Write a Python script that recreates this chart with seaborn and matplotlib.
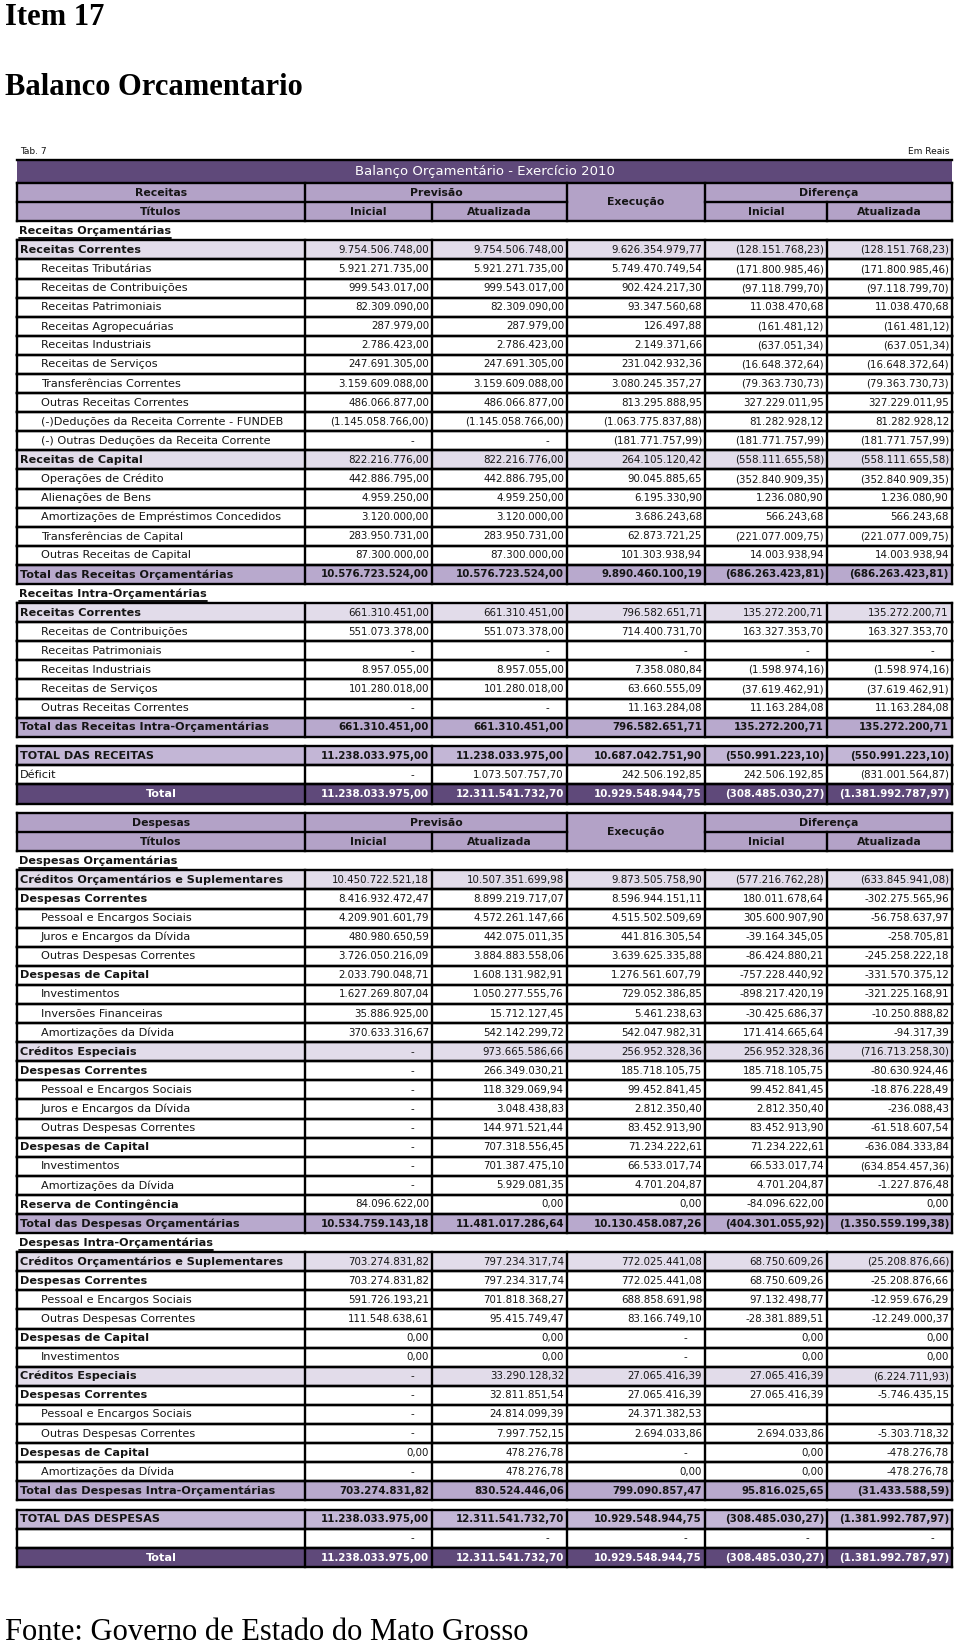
'''
Balanco Orcamentario - Exercicio 2010, drawn as a table.
'''
import matplotlib
matplotlib.use('Agg')
import matplotlib.pyplot as plt
import seaborn as sns
from matplotlib.patches import Rectangle

# Receitas.
rec_labels = [
  'Receitas Orçamentárias', 'Receitas Correntes', 'Receitas Tributárias',
  'Receitas de Contribuições', 'Receitas Patrimoniais', 'Receitas Agropecuárias',
  'Receitas Industriais', 'Receitas de Serviços', 'Transferências Correntes',
  'Outras Receitas Correntes', '(-)Deduções da Receita Corrente - FUNDEB',
  '(-) Outras Deduções da Receita Corrente', 'Receitas de Capital',
  'Operações de Crédito', 'Alienações de Bens',
  'Amortizações de Empréstimos Concedidos', 'Transferências de Capital',
  'Outras Receitas de Capital', 'Total das Receitas Orçamentárias',
  'Receitas Intra-Orçamentárias', 'Receitas Correntes',
  'Receitas de Contribuições', 'Receitas Patrimoniais', 'Receitas Industriais',
  'Receitas de Serviços', 'Outras Receitas Correntes',
  'Total das Receitas Intra-Orçamentárias', 'TOTAL DAS RECEITAS', 'Déficit',
  'Total']
rec_kinds = ['sec', 'cat'] + ['item'] * 10 + ['cat'] + ['item'] * 5 + \
  ['tot', 'sec', 'cat'] + ['item'] * 5 + ['tot', 'big', 'plain', 'final']
rec_inicial = [
  '', '9.754.506.748,00', '5.921.271.735,00', '999.543.017,00', '82.309.090,00',
  '287.979,00', '2.786.423,00', '247.691.305,00', '3.159.609.088,00',
  '486.066.877,00', '(1.145.058.766,00)', '-', '822.216.776,00',
  '442.886.795,00', '4.959.250,00', '3.120.000,00', '283.950.731,00',
  '87.300.000,00', '10.576.723.524,00', '', '661.310.451,00', '551.073.378,00',
  '-', '8.957.055,00', '101.280.018,00', '-', '661.310.451,00',
  '11.238.033.975,00', '-', '11.238.033.975,00']
rec_atualizada = [
  '', '9.754.506.748,00', '5.921.271.735,00', '999.543.017,00', '82.309.090,00',
  '287.979,00', '2.786.423,00', '247.691.305,00', '3.159.609.088,00',
  '486.066.877,00', '(1.145.058.766,00)', '-', '822.216.776,00',
  '442.886.795,00', '4.959.250,00', '3.120.000,00', '283.950.731,00',
  '87.300.000,00', '10.576.723.524,00', '', '661.310.451,00', '551.073.378,00',
  '-', '8.957.055,00', '101.280.018,00', '-', '661.310.451,00',
  '11.238.033.975,00', '1.073.507.757,70', '12.311.541.732,70']
rec_execucao = [
  '', '9.626.354.979,77', '5.749.470.749,54', '902.424.217,30', '93.347.560,68',
  '126.497,88', '2.149.371,66', '231.042.932,36', '3.080.245.357,27',
  '813.295.888,95', '(1.063.775.837,88)', '(181.771.757,99)', '264.105.120,42',
  '90.045.885,65', '6.195.330,90', '3.686.243,68', '62.873.721,25',
  '101.303.938,94', '9.890.460.100,19', '', '796.582.651,71', '714.400.731,70',
  '-', '7.358.080,84', '63.660.555,09', '11.163.284,08', '796.582.651,71',
  '10.687.042.751,90', '242.506.192,85', '10.929.548.944,75']
rec_dif_inicial = [
  '', '(128.151.768,23)', '(171.800.985,46)', '(97.118.799,70)', '11.038.470,68',
  '(161.481,12)', '(637.051,34)', '(16.648.372,64)', '(79.363.730,73)',
  '327.229.011,95', '81.282.928,12', '(181.771.757,99)', '(558.111.655,58)',
  '(352.840.909,35)', '1.236.080,90', '566.243,68', '(221.077.009,75)',
  '14.003.938,94', '(686.263.423,81)', '', '135.272.200,71', '163.327.353,70',
  '-', '(1.598.974,16)', '(37.619.462,91)', '11.163.284,08', '135.272.200,71',
  '(550.991.223,10)', '242.506.192,85', '(308.485.030,27)']
rec_dif_atualizada = [
  '', '(128.151.768,23)', '(171.800.985,46)', '(97.118.799,70)', '11.038.470,68',
  '(161.481,12)', '(637.051,34)', '(16.648.372,64)', '(79.363.730,73)',
  '327.229.011,95', '81.282.928,12', '(181.771.757,99)', '(558.111.655,58)',
  '(352.840.909,35)', '1.236.080,90', '566.243,68', '(221.077.009,75)',
  '14.003.938,94', '(686.263.423,81)', '', '135.272.200,71', '163.327.353,70',
  '-', '(1.598.974,16)', '(37.619.462,91)', '11.163.284,08', '135.272.200,71',
  '(550.991.223,10)', '(831.001.564,87)', '(1.381.992.787,97)']

# Despesas.
desp_labels = [
  'Despesas Orçamentárias', 'Créditos Orçamentários e Suplementares',
  'Despesas Correntes', 'Pessoal e Encargos Sociais', 'Juros e Encargos da Dívida',
  'Outras Despesas Correntes', 'Despesas de Capital', 'Investimentos',
  'Inversões Financeiras', 'Amortizações da Dívida', 'Créditos Especiais',
  'Despesas Correntes', 'Pessoal e Encargos Sociais', 'Juros e Encargos da Dívida',
  'Outras Despesas Correntes', 'Despesas de Capital', 'Investimentos',
  'Amortizações da Dívida', 'Reserva de Contingência',
  'Total das Despesas Orçamentárias', 'Despesas Intra-Orçamentárias',
  'Créditos Orçamentários e Suplementares', 'Despesas Correntes',
  'Pessoal e Encargos Sociais', 'Outras Despesas Correntes', 'Despesas de Capital',
  'Investimentos', 'Créditos Especiais', 'Despesas Correntes',
  'Pessoal e Encargos Sociais', 'Outras Despesas Correntes', 'Despesas de Capital',
  'Amortizações da Dívida', 'Total das Despesas Intra-Orçamentárias',
  'TOTAL DAS DESPESAS', '', 'Total']
desp_kinds = ['sec', 'cat', 'sub', 'item', 'item', 'item', 'sub', 'item', 'item',
  'item', 'cat', 'sub', 'item', 'item', 'item', 'sub', 'item', 'item', 'sub',
  'tot', 'sec', 'cat', 'sub', 'item', 'item', 'sub', 'item', 'cat', 'sub', 'item',
  'item', 'sub', 'item', 'tot', 'big', 'plain', 'final']
desp_inicial = [
  '', '10.450.722.521,18', '8.416.932.472,47', '4.209.901.601,79',
  '480.980.650,59', '3.726.050.216,09', '2.033.790.048,71', '1.627.269.807,04',
  '35.886.925,00', '370.633.316,67', '-', '-', '-', '-', '-', '-', '-', '-',
  '84.096.622,00', '10.534.759.143,18', '', '703.274.831,82', '703.274.831,82',
  '591.726.193,21', '111.548.638,61', '0,00', '0,00', '-', '-', '-', '-', '0,00',
  '-', '703.274.831,82', '11.238.033.975,00', '-', '11.238.033.975,00']
desp_atualizada = [
  '', '10.507.351.699,98', '8.899.219.717,07', '4.572.261.147,66',
  '442.075.011,35', '3.884.883.558,06', '1.608.131.982,91', '1.050.277.555,76',
  '15.712.127,45', '542.142.299,72', '973.665.586,66', '266.349.030,21',
  '118.329.069,94', '3.048.438,83', '144.971.521,44', '707.318.556,45',
  '701.387.475,10', '5.929.081,35', '0,00', '11.481.017.286,64', '',
  '797.234.317,74', '797.234.317,74', '701.818.368,27', '95.415.749,47', '0,00',
  '0,00', '33.290.128,32', '32.811.851,54', '24.814.099,39', '7.997.752,15',
  '478.276,78', '478.276,78', '830.524.446,06', '12.311.541.732,70', '-',
  '12.311.541.732,70']
desp_execucao = [
  '', '9.873.505.758,90', '8.596.944.151,11', '4.515.502.509,69',
  '441.816.305,54', '3.639.625.335,88', '1.276.561.607,79', '729.052.386,85',
  '5.461.238,63', '542.047.982,31', '256.952.328,36', '185.718.105,75',
  '99.452.841,45', '2.812.350,40', '83.452.913,90', '71.234.222,61',
  '66.533.017,74', '4.701.204,87', '0,00', '10.130.458.087,26', '',
  '772.025.441,08', '772.025.441,08', '688.858.691,98', '83.166.749,10', '-', '-',
  '27.065.416,39', '27.065.416,39', '24.371.382,53', '2.694.033,86', '-', '0,00',
  '799.090.857,47', '10.929.548.944,75', '-', '10.929.548.944,75']
desp_dif_inicial = [
  '', '(577.216.762,28)', '180.011.678,64', '305.600.907,90', '-39.164.345,05',
  '-86.424.880,21', '-757.228.440,92', '-898.217.420,19', '-30.425.686,37',
  '171.414.665,64', '256.952.328,36', '185.718.105,75', '99.452.841,45',
  '2.812.350,40', '83.452.913,90', '71.234.222,61', '66.533.017,74',
  '4.701.204,87', '-84.096.622,00', '(404.301.055,92)', '', '68.750.609,26',
  '68.750.609,26', '97.132.498,77', '-28.381.889,51', '0,00', '0,00',
  '27.065.416,39', '27.065.416,39', '', '2.694.033,86', '0,00', '0,00',
  '95.816.025,65', '(308.485.030,27)', '-', '(308.485.030,27)']
desp_dif_atualizada = [
  '', '(633.845.941,08)', '-302.275.565,96', '-56.758.637,97', '-258.705,81',
  '-245.258.222,18', '-331.570.375,12', '-321.225.168,91', '-10.250.888,82',
  '-94.317,39', '(716.713.258,30)', '-80.630.924,46', '-18.876.228,49',
  '-236.088,43', '-61.518.607,54', '-636.084.333,84', '(634.854.457,36)',
  '-1.227.876,48', '0,00', '(1.350.559.199,38)', '', '(25.208.876,66)',
  '-25.208.876,66', '-12.959.676,29', '-12.249.000,37', '0,00', '0,00',
  '(6.224.711,93)', '-5.746.435,15', '', '-5.303.718,32', '-478.276,78',
  '-478.276,78', '(31.433.588,59)', '(1.381.992.787,97)', '-',
  '(1.381.992.787,97)']

# Layout (pixels of the 960x1645 output).
COLX = [17, 305, 432, 567, 705, 827, 952]
P = 19.09
LW = 1.7
DARK = '#5f497a'
HEAD = '#b3a2c7'
FILL = {'cat': '#e2dcea', 'tot': '#b8a9cd', 'big': '#c3b6d6', 'final': DARK}
TXT = '#151515'
LABEL_FONT = 'DejaVu Sans'
LABEL_SIZE = 8.1
NUM_SIZE = 7.4


def _hline(ax, x0, x1, y):
  ax.plot([x0, x1], [y, y], color='black', lw=LW, solid_capstyle='projecting')


def _vline(ax, x, y0, y1):
  ax.plot([x, x], [y0, y1], color='black', lw=LW, solid_capstyle='projecting')


def drawHeader(ax, top, name):
  '''
  Two header rows with merged cells.
  '''
  ax.add_patch(Rectangle((COLX[0], top), COLX[-1] - COLX[0], 2 * P,
                         color=HEAD, lw=0))
  _hline(ax, COLX[0], COLX[-1], top)
  _hline(ax, COLX[0], COLX[3], top + P)
  _hline(ax, COLX[4], COLX[-1], top + P)
  _hline(ax, COLX[0], COLX[-1], top + 2 * P)
  for x in [COLX[0], COLX[1], COLX[3], COLX[4], COLX[6]]:
    _vline(ax, x, top, top + 2 * P)
  for x in [COLX[2], COLX[5]]:
    _vline(ax, x, top + P, top + 2 * P)

  kw = dict(ha='center', va='center', fontsize=7.8, fontweight='bold',
            color=TXT, family=LABEL_FONT)
  c = lambda a, b: (COLX[a] + COLX[b]) / 2
  ax.text(c(0, 1), top + P / 2, name, **kw)
  ax.text(c(1, 3), top + P / 2, 'Previsão', **kw)
  ax.text(c(4, 6), top + P / 2, 'Diferença', **kw)
  ax.text(c(3, 4), top + P, 'Execução', **kw)
  ax.text(c(0, 1), top + 1.5 * P, 'Títulos', **kw)
  ax.text(c(1, 2), top + 1.5 * P, 'Inicial', **kw)
  ax.text(c(2, 3), top + 1.5 * P, 'Atualizada', **kw)
  ax.text(c(4, 5), top + 1.5 * P, 'Inicial', **kw)
  ax.text(c(5, 6), top + 1.5 * P, 'Atualizada', **kw)
  return top + 2 * P


def drawRows(ax, top, labels, kinds, cols, underlines):
  '''
  Draws the body rows, half a row of space before each grand total.
  '''
  y = top
  for i, (label, kind) in enumerate(zip(labels, kinds)):
    if kind == 'big':
      y += P / 2
    cy = y + P / 2

    if kind == 'sec':
      t = ax.text(COLX[0] + 2, cy, label, ha='left', va='center',
                  fontsize=LABEL_SIZE, fontweight='bold', color=TXT,
                  family=LABEL_FONT)
      underlines.append((t, y + P - 2))
      y += P
      continue

    if kind in FILL:
      ax.add_patch(Rectangle((COLX[0], y), COLX[-1] - COLX[0], P,
                             color=FILL[kind], lw=0))
    _hline(ax, COLX[0], COLX[-1], y)
    _hline(ax, COLX[0], COLX[-1], y + P)
    for x in COLX:
      _vline(ax, x, y, y + P)

    bold = kind in ('cat', 'sub', 'tot', 'big', 'final')
    color = 'white' if kind == 'final' else TXT
    if kind == 'final':
      ax.text((COLX[0] + COLX[1]) / 2, cy, label, ha='center', va='center',
              fontsize=LABEL_SIZE, fontweight='bold', color=color,
              family=LABEL_FONT)
    else:
      x = COLX[0] + (24 if kind == 'item' else 3)
      ax.text(x, cy, label, ha='left', va='center', fontsize=LABEL_SIZE,
              fontweight='bold' if bold else 'normal', color=color,
              family=LABEL_FONT)

    for j, col in enumerate(cols):
      v = col[i]
      if not v:
        continue
      xr = COLX[j + 2] - (18 if v == '-' else 3)
      ax.text(xr, cy, v, ha='right', va='center', fontsize=NUM_SIZE,
              fontweight='bold' if kind in ('tot', 'big', 'final') else 'normal',
              color=color, family=LABEL_FONT)
    y += P
  return y


sns.set_style('white')
fig = plt.figure(figsize=(9.6, 16.45), dpi=100)
ax = fig.add_axes([0, 0, 1, 1])
ax.set_xlim(0, 960)
ax.set_ylim(1645, 0)
ax.axis('off')

# Page titles.
serif = 'Liberation Serif'
ax.text(5, 25, 'Item 17', fontsize=22, fontweight='bold', family=serif,
        va='baseline', color='black')
ax.text(5, 95, 'Balanco Orcamentario', fontsize=22, fontweight='bold',
        family=serif, va='baseline', color='black')
ax.text(5, 1640, 'Fonte: Governo de Estado do Mato Grosso', fontsize=22,
        family=serif, va='baseline', color='black')

# Table caption and title bar.
ax.text(20, 151, 'Tab. 7', fontsize=6.5, va='center', color=TXT,
        family=LABEL_FONT)
ax.text(950, 151, 'Em Reais', fontsize=6.5, va='center', ha='right', color=TXT,
        family=LABEL_FONT)
top0 = 221.3 - 2 * P
ax.add_patch(Rectangle((COLX[0], 160), COLX[-1] - COLX[0], top0 - 160,
                       color=DARK, lw=0))
_hline(ax, COLX[0], COLX[-1], 160)
ax.text((COLX[0] + COLX[-1]) / 2, (160 + top0) / 2,
        'Balanço Orçamentário - Exercício 2010', ha='center', va='center',
        fontsize=9.5, color='white', family=LABEL_FONT)

underlines = []
y = drawHeader(ax, top0, 'Receitas')
y = drawRows(ax, y, rec_labels, rec_kinds,
             [rec_inicial, rec_atualizada, rec_execucao, rec_dif_inicial,
              rec_dif_atualizada], underlines)
y = drawHeader(ax, y + P / 2, 'Despesas')
y = drawRows(ax, y, desp_labels, desp_kinds,
             [desp_inicial, desp_atualizada, desp_execucao, desp_dif_inicial,
              desp_dif_atualizada], underlines)

# Underline the section titles.
renderer = fig.canvas.get_renderer()
inv = ax.transData.inverted()
for t, uy in underlines:
  bb = t.get_window_extent(renderer)
  x0 = inv.transform((bb.x0, bb.y0))[0]
  x1 = inv.transform((bb.x1, bb.y0))[0]
  ax.plot([x0, x1], [uy, uy], color='black', lw=1.3)

fig.savefig('out.png', dpi=100)
